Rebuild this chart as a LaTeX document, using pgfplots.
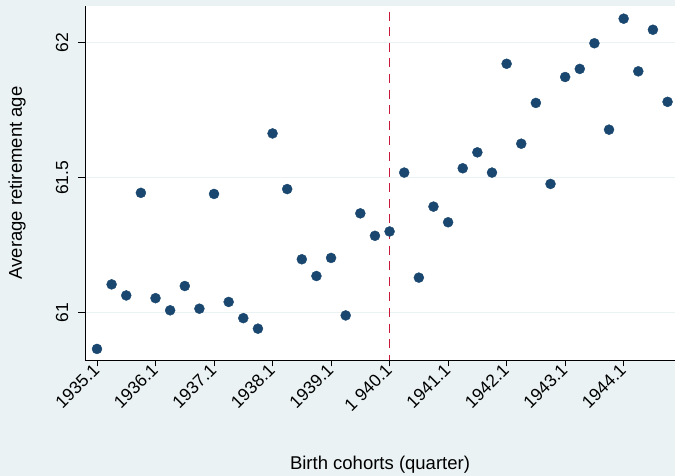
\documentclass[border=0pt]{standalone}
\usepackage{pgfplots}
\pgfplotsset{compat=1.18}
\usepackage{pgfplotstable}
\usepackage{fontspec}
\setmainfont{Liberation Sans}
\definecolor{bgc}{RGB}{234,242,243}
\definecolor{stnavy}{RGB}{26,71,111}
\definecolor{xlinecol}{RGB}{200,24,60}
\pgfplotstableread{
x y
0 60.866
1 61.105
2 61.064
3 61.444
4 61.054
5 61.009
6 61.099
7 61.015
8 61.440
9 61.040
10 60.980
11 60.941
12 61.664
13 61.458
14 61.198
15 61.136
16 61.203
17 60.990
18 61.368
19 61.285
20 61.301
21 61.519
22 61.130
23 61.393
24 61.335
25 61.535
26 61.594
27 61.519
28 61.922
29 61.626
30 61.777
31 61.477
32 61.873
33 61.903
34 61.998
35 61.678
36 62.089
37 61.894
38 62.048
39 61.781
}\datatable
\begin{document}
\begin{tikzpicture}[x=1bp,y=1bp]
\fill[bgc] (0,0) rectangle (675,476);
\useasboundingbox (0,0) rectangle (675,476);
\begin{axis}[
  at={(85bp,116bp)}, anchor=south west,
  scale only axis, width=590bp, height=354bp,
  xmin=-0.82, xmax=39.51, ymin=60.825, ymax=62.136,
  axis background/.style={fill=white},
  axis x line*=bottom, axis y line*=left,
  axis line style={-, black, line width=0.8bp},
  tick align=outside, major tick length=6.5bp,
  tick style={black, line width=0.7bp},
  xtick={0,4,8,12,16,20,24,28,32,36},
  xticklabels={1935.1,1936.1,1937.1,1938.1,1939.1,1 940.1,1941.1,1942.1,1943.1,1944.1},
  ytick={61,61.5,62},
  yticklabels={61,61.5,62},
  ymajorgrids, grid style={color=bgc, line width=1.2bp},
  /pgf/number format/assume math mode=true,
  tick label style={font=\fontsize{17.5bp}{20bp}\selectfont, black},
  xticklabel style={rotate=45, anchor=east, inner sep=1bp},
  yticklabel style={xshift=-9bp, rotate=90, anchor=south, inner sep=1bp},
  label style={font=\fontsize{18.5bp}{22bp}\selectfont, black},
  xlabel={Birth cohorts (quarter)},
  ylabel={Average retirement age},
  xlabel style={at={(axis description cs:0.5,-0.2966)}, anchor=center},
  ylabel style={at={(axis description cs:-0.1153,0.5)}, anchor=center},
]
\addplot[draw=xlinecol, line width=1.6bp, no markers, forget plot,
  dash pattern=on 9bp off 6.6bp, dash phase=9.9bp] coordinates {(20,62.136) (20,60.825)};
\addplot[only marks, mark=*, mark size=5bp, draw=stnavy, fill=stnavy] table[x=x,y=y] {\datatable};
\end{axis}
\end{tikzpicture}
\end{document}
